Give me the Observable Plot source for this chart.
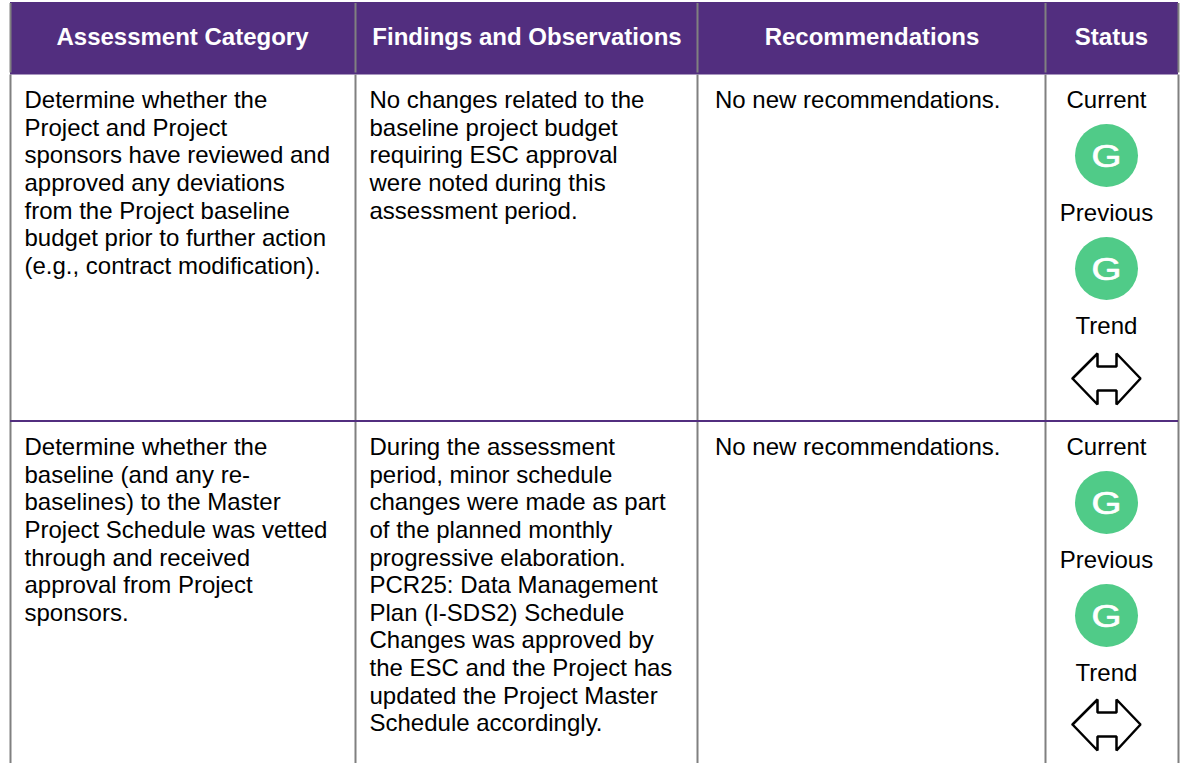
<!DOCTYPE html>
<html><head><meta charset="utf-8">
<style>html,body{margin:0;padding:0;background:#fff;overflow:hidden}svg{display:block}</style>
<script src="https://cdn.jsdelivr.net/npm/d3@7"></script>
<script src="https://cdn.jsdelivr.net/npm/@observablehq/plot@0.6"></script>
</head><body><div id="chart"></div>
<script>
// Table content
const headers = ["Assessment Category", "Findings and Observations", "Recommendations", "Status"];
const row1Category = ["Determine whether the","Project and Project","sponsors have reviewed and","approved any deviations","from the Project baseline","budget prior to further action","(e.g., contract modification)."];
const row1Findings = ["No changes related to the","baseline project budget","requiring ESC approval","were noted during this","assessment period."];
const row2Category = ["Determine whether the","baseline (and any re-","baselines) to the Master","Project Schedule was vetted","through and received","approval from Project","sponsors."];
const row2Findings = ["During the assessment","period, minor schedule","changes were made as part","of the planned monthly","progressive elaboration.","PCR25: Data Management","Plan (I-SDS2) Schedule","Changes was approved by","the ESC and the Project has","updated the Project Master","Schedule accordingly."];
const recommendation = "No new recommendations.";
const statusLabels = ["Current","Previous","Trend"];
const statusRatings = ["G","G"];

// Layout of the table
const W = 1182, H = 763;
const columnEdges = [10, 355, 697, 1045, 1178];
const textInsets = [14, 14, 17.5];
const headerNudge = [-0.5, 0.5, 0.5, -0.5];
const headerBand = [2, 74.5];
const gridHeader = [3, 72.5], gridBody = [74.5, H];
const rowTops = [74, 421];
const rowSeparator = 420.5;
const lineStep = 27.6, firstLine = 26;
const statusLabelOffset = [26, 139, 252], dotOffset = [81, 194];
const trendOffset = [304, 303];
const trendCenter = 1106;
const trendOutline = [[-34,0],[-9,-25],[-9,-12],[10,-12],[10,-25],[34,0],[10,26],[10,12],[-9,12],[-9,26],[-34,0]];
const purple = "#522E7F", gray = "#808080", green = "#50CB88";

const bodyFont = "Liberation Sans, Arial, sans-serif";
const lines = (arr, col, row) => arr.map((t,i)=>({t, x: columnEdges[col]+textInsets[col], y: rowTops[row]+firstLine+i*lineStep}));
const bodyText = [
  ...lines(row1Category,0,0), ...lines(row1Findings,1,0), ...lines([recommendation],2,0),
  ...lines(row2Category,0,1), ...lines(row2Findings,1,1), ...lines([recommendation],2,1)
];
const headCells = headers.map((t,i)=>({t, x:(columnEdges[i]+columnEdges[i+1])/2 + headerNudge[i], y:37}));
const statusText = rowTops.flatMap(top => statusLabels.map((t,i)=>({t, x:trendCenter, y:top+statusLabelOffset[i]})));
const dots = rowTops.flatMap(top => statusRatings.map((t,i)=>({t, x:trendCenter, y:top+dotOffset[i]})));
const ratingText = dots.map(d => ({...d, y:d.y+2}));
const arrows = rowTops.flatMap((top,k) => trendOutline.map(([dx,dy])=>({k, x:trendCenter+dx, y:top+trendOffset[k]+dy})));

const plot = Plot.plot({
  width: W, height: H, margin: 0,
  style: {background:"#fff", fontFamily: bodyFont},
  x: {domain:[0,W], range:[0,W], axis:null},
  y: {domain:[0,H], range:[0,H], axis:null},
  marks: [
    Plot.rect([0], {x1:columnEdges[0], x2:columnEdges[4], y1:headerBand[0], y2:headerBand[1], fill:purple}),
    Plot.ruleX(columnEdges, {y1:gridHeader[0], y2:gridHeader[1], stroke:gray, strokeWidth:2}),
    Plot.ruleX(columnEdges, {y1:gridBody[0], y2:gridBody[1], stroke:gray, strokeWidth:2}),
    Plot.ruleY([rowSeparator], {x1:columnEdges[0], x2:columnEdges[4], stroke:purple, strokeWidth:2}),
    Plot.text(headCells, {x:"x", y:"y", text:"t", fill:"#fff", fontWeight:"bold", fontSize:24, textAnchor:"middle", lineAnchor:"middle"}),
    Plot.text(bodyText, {x:"x", y:"y", text:"t", fill:"#000", fontSize:24, textAnchor:"start", lineAnchor:"middle"}),
    Plot.text(statusText, {x:"x", y:"y", text:"t", fill:"#000", fontSize:24, textAnchor:"middle", lineAnchor:"middle"}),
    Plot.dot(dots, {x:"x", y:"y", r:31.5, fill:green}),
    Plot.text(ratingText, {x:"x", y:"y", text:"t", fill:"#fff", stroke:"#fff", strokeWidth:0.7, fontSize:31, textAnchor:"middle", lineAnchor:"middle", className:"rating"}),
    Plot.line(arrows, {x:"x", y:"y", z:"k", stroke:"#000", strokeWidth:2.5, fill:"#fff", curve:"linear", strokeLinejoin:"miter"})
  ]
});
document.getElementById("chart").append(plot);
d3.select(plot).selectAll(".rating text").attr("textLength",30).attr("lengthAdjust","spacingAndGlyphs");
</script></body></html>
